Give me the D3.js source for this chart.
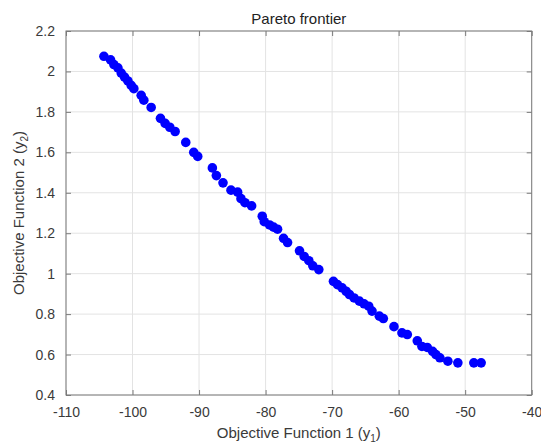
<!DOCTYPE html>
<html>
<head>
<meta charset="utf-8">
<script src="https://cdn.jsdelivr.net/npm/d3@7"></script>
<style>
  body { margin: 0; background: #fff; }
  svg { font-family: "Liberation Sans", Arial, sans-serif; }
</style>
</head>
<body>
<svg width="541" height="444"></svg>
<script>
// objective values
var y1 = [-104.3, -103.3, -102.8, -102.2, -101.7, -101.2, -100.7, -100.2, -99.8, -98.7,
          -98.3, -97.2, -95.8, -95.1, -94.4, -93.6, -92.0, -90.8, -90.2, -88.0,
          -87.4, -86.4, -85.2, -84.2, -83.7, -83.1, -82.1, -80.5, -80.2, -79.4,
          -78.8, -78.2, -77.3, -76.7, -74.9, -74.2, -73.5, -72.9, -72.0, -69.8,
          -69.2, -68.5, -67.9, -67.4, -66.7, -65.9, -65.2, -64.5, -64.0, -62.9,
          -62.3, -60.7, -59.5, -58.7, -57.2, -56.5, -55.7, -54.9, -54.4, -53.8,
          -52.6, -51.1, -48.7, -47.6];
var y2 = [2.075, 2.057, 2.034, 2.018, 1.992, 1.972, 1.953, 1.931, 1.915, 1.882,
          1.858, 1.822, 1.768, 1.743, 1.724, 1.703, 1.649, 1.600, 1.580, 1.523,
          1.485, 1.449, 1.413, 1.403, 1.371, 1.351, 1.335, 1.284, 1.257, 1.241,
          1.230, 1.220, 1.175, 1.154, 1.113, 1.085, 1.064, 1.039, 1.020, 0.962,
          0.946, 0.930, 0.913, 0.897, 0.880, 0.864, 0.851, 0.839, 0.815, 0.790,
          0.778, 0.738, 0.707, 0.699, 0.668, 0.640, 0.635, 0.616, 0.600, 0.584,
          0.567, 0.559, 0.559, 0.559];
var xTicks = [-110, -100, -90, -80, -70, -60, -50, -40];
var yTicks = [0.4, 0.6, 0.8, 1, 1.2, 1.4, 1.6, 1.8, 2, 2.2];

var svg = d3.select("svg"),
    margin = {top: 31, right: 9.3, bottom: 49, left: 66},
    width = +svg.attr("width") - margin.left - margin.right,
    height = +svg.attr("height") - margin.top - margin.bottom;

var x = d3.scaleLinear().domain([-110, -40]).range([0, width]);
var y = d3.scaleLinear().domain([0.4, 2.2]).range([height, 0]);

var g = svg.append("g").attr("transform", "translate(" + margin.left + "," + margin.top + ")");

// grid
g.append("g").selectAll("line").data(xTicks).enter().append("line")
    .attr("x1", function(d) { return x(d); }).attr("x2", function(d) { return x(d); })
    .attr("y1", 0).attr("y2", height)
    .attr("stroke", "#e3e3e3");
g.append("g").selectAll("line").data(yTicks).enter().append("line")
    .attr("y1", function(d) { return y(d); }).attr("y2", function(d) { return y(d); })
    .attr("x1", 0).attr("x2", width)
    .attr("stroke", "#e3e3e3");

// axes, ticks pointing inward like matlab
function styleAxis(sel) {
    sel.select(".domain").remove();
    sel.selectAll(".tick line").attr("stroke", "#7a7a7a");
    sel.selectAll(".tick text").attr("fill", "#3a3a3a").style("font-size", "14px");
}
var plain = function(d) { return String(d); };  // plain hyphen minus
g.append("g")
    .attr("transform", "translate(0," + height + ")")
    .call(d3.axisBottom(x).tickValues(xTicks).tickSizeInner(-5).tickPadding(12).tickFormat(plain))
    .call(styleAxis);
g.append("g")
    .call(d3.axisTop(x).tickValues(xTicks).tickSizeInner(-5).tickFormat(""))
    .call(styleAxis);
g.append("g")
    .call(d3.axisLeft(y).tickValues(yTicks).tickSizeInner(-5).tickPadding(11).tickFormat(plain))
    .call(styleAxis);
g.append("g")
    .attr("transform", "translate(" + width + ",0)")
    .call(d3.axisRight(y).tickValues(yTicks).tickSizeInner(-5).tickFormat(""))
    .call(styleAxis);

g.append("rect")
    .attr("width", width).attr("height", height)
    .attr("fill", "none").attr("stroke", "#7a7a7a");

// points
g.append("g").selectAll("circle")
    .data(d3.range(y1.length))
    .enter().append("circle")
    .attr("cx", function(i) { return x(y1[i]); })
    .attr("cy", function(i) { return y(y2[i]); })
    .attr("r", 4.8)
    .attr("fill", "#0000ff");

// title
svg.append("text")
    .attr("x", margin.left + width / 2).attr("y", 24)
    .attr("text-anchor", "middle")
    .style("font-size", "15px").attr("fill", "#222")
    .text("Pareto frontier");

// x label
var xl = svg.append("text")
    .attr("x", margin.left + width / 2).attr("y", 438)
    .attr("text-anchor", "middle")
    .style("font-size", "15px").attr("fill", "#3a3a3a");
xl.append("tspan").text("Objective Function 1 (y");
xl.append("tspan").attr("dy", 4).style("font-size", "10px").text("1");
xl.append("tspan").attr("dy", -4).text(")");

// y label
var yl = svg.append("text")
    .attr("transform", "translate(24," + (margin.top + height / 2) + ") rotate(-90)")
    .attr("text-anchor", "middle")
    .style("font-size", "15px").attr("fill", "#3a3a3a");
yl.append("tspan").text("Objective Function 2 (y");
yl.append("tspan").attr("dy", 4).style("font-size", "10px").text("2");
yl.append("tspan").attr("dy", -4).text(")");
</script>
</body>
</html>
